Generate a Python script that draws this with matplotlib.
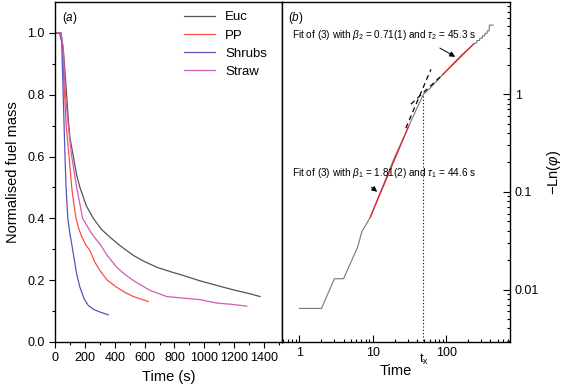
import matplotlib
matplotlib.use("Agg")
import matplotlib.pyplot as plt
from matplotlib.ticker import LogLocator, NullFormatter, FixedLocator, FixedFormatter
import matplotlib.transforms as mtransforms

plt.rcParams['font.family'] = ['Liberation Sans', 'DejaVu Sans']
plt.rcParams['mathtext.fontset'] = 'custom'
plt.rcParams['mathtext.rm'] = 'Liberation Sans'
plt.rcParams['mathtext.it'] = 'Liberation Sans:italic'

# panel (a): normalised fuel mass vs time (s)
euc_t = [5, 40, 55, 66, 78, 89, 100, 123, 145, 167, 210, 257, 310, 368, 440, 525, 600, 681, 770, 860, 970, 1083, 1200, 1306, 1373]
euc_m = [1.0, 1.0, 0.95, 0.88, 0.80, 0.72, 0.66, 0.60, 0.54, 0.50, 0.44, 0.40, 0.365, 0.339, 0.31, 0.28, 0.26, 0.242, 0.228, 0.215, 0.198, 0.183, 0.168, 0.156, 0.147]

pp_t = [5, 40, 50, 60, 75, 94, 112, 125, 141, 160, 180, 205, 234, 265, 301, 350, 413, 470, 525, 625]
pp_m = [1.0, 1.0, 0.95, 0.84, 0.70, 0.60, 0.50, 0.45, 0.40, 0.365, 0.34, 0.315, 0.296, 0.26, 0.231, 0.20, 0.177, 0.16, 0.147, 0.131]

shrubs_t = [5, 30, 45, 56, 67, 74, 86, 100, 123, 145, 167, 195, 223, 260, 301, 357]
shrubs_m = [1.0, 1.0, 0.97, 0.78, 0.60, 0.50, 0.40, 0.35, 0.285, 0.22, 0.177, 0.14, 0.118, 0.105, 0.097, 0.088]

straw_t = [5, 40, 55, 70, 89, 112, 145, 165, 185, 240, 270, 301, 350, 413, 470, 525, 636, 748, 860, 971, 1083, 1180, 1284]
straw_m = [1.0, 1.0, 0.95, 0.80, 0.70, 0.60, 0.50, 0.45, 0.40, 0.355, 0.335, 0.317, 0.28, 0.242, 0.218, 0.199, 0.167, 0.147, 0.142, 0.137, 0.126, 0.122, 0.116]

# panel (b): -Ln(phi) vs time, log-log
data_t = [1, 2, 3, 4, 6.2, 7.1, 9.25, 12, 15, 20, 25, 30, 40, 49, 60, 70, 89, 120, 160, 200, 240,
          260, 262, 285, 287, 310, 312, 335, 337, 360, 362, 385, 387, 436]
data_y = [0.0064, 0.0064, 0.0129, 0.0129, 0.027, 0.039, 0.055, 0.09, 0.135, 0.23, 0.33, 0.45, 0.72, 1.0, 1.15, 1.3, 1.58, 2.0, 2.5, 2.9, 3.3,
          3.35, 3.55, 3.55, 3.75, 3.75, 3.95, 3.95, 4.2, 4.2, 4.45, 4.45, 5.1, 5.1]

fit1_t = [9.25, 30.8]
fit1_y = [0.055, 0.47]
fit1_ext_t = [28.2, 62]
fit1_ext_y = [0.45, 1.8]
fit2_t = [89, 240]
fit2_y = [1.58, 3.3]
fit2_ext_t = [33, 89]
fit2_ext_y = [0.79, 1.58]
tx = 49

label1 = r'Fit of (3) with $\beta_1$ = 1.81(2) and $\tau_1$ = 44.6 s'
label2 = r'Fit of (3) with $\beta_2$ = 0.71(1) and $\tau_2$ = 45.3 s'

fig = plt.figure(figsize=(5.63, 3.88), dpi=100)
ax1 = fig.add_axes([55 / 563, 46 / 388, 227 / 563, 340 / 388])
ax2 = fig.add_axes([282 / 563, 46 / 388, 228 / 563, 340 / 388])

ax1.plot(euc_t, euc_m, color="#555555", lw=0.9, label="Euc")
ax1.plot(pp_t, pp_m, color="#ff4a4a", lw=0.9, label="PP")
ax1.plot(shrubs_t, shrubs_m, color="#5555c0", lw=0.9, label="Shrubs")
ax1.plot(straw_t, straw_m, color="#d05cb4", lw=0.9, label="Straw")
ax1.set_xlim(0, 1520)
ax1.set_ylim(0, 1.1)
ax1.xaxis.set_major_locator(FixedLocator([0, 200, 400, 600, 800, 1000, 1200, 1400]))
ax1.xaxis.set_minor_locator(FixedLocator([100, 300, 500, 700, 900, 1100, 1300, 1500]))
ax1.yaxis.set_major_locator(FixedLocator([0, 0.2, 0.4, 0.6, 0.8, 1.0]))
ax1.yaxis.set_minor_locator(FixedLocator([0.1, 0.3, 0.5, 0.7, 0.9]))
ax1.set_yticklabels(['0.0', '0.2', '0.4', '0.6', '0.8', '1.0'])
ax1.tick_params(which='both', direction='out', labelsize=9, width=0.8)
ax1.tick_params(which='major', length=4)
ax1.tick_params(which='minor', length=2.5)
ax1.set_xlabel("Time (s)", fontsize=10.5, labelpad=4)
ax1.set_ylabel("Normalised fuel mass", fontsize=10.5, labelpad=5)
ax1.text(0.03, 0.975, r'($a$)', transform=ax1.transAxes, fontsize=8.5, va='top', ha='left')
ax1.legend(loc='upper right', frameon=False, fontsize=9.5, handlelength=2.35,
           labelspacing=0.45, borderaxespad=0.3, bbox_to_anchor=(0.975, 1.0))

ax2.plot(data_t, data_y, color="#777777", lw=0.8)
ax2.plot(fit1_t, fit1_y, color="#e8202a", lw=0.9)
ax2.plot(fit2_t, fit2_y, color="#e8202a", lw=0.9)
ax2.plot(fit1_ext_t, fit1_ext_y, color="black", lw=0.9, ls=(0, (4, 3)))
ax2.plot(fit2_ext_t, fit2_ext_y, color="black", lw=0.9, ls=(0, (4, 3)))
ax2.plot([tx, tx], [0.001, 1.0], color="black", lw=0.8, ls=(0, (1, 2)))
ax2.set_xscale('log')
ax2.set_yscale('log')
ax2.set_xlim(0.58, 740)
ax2.set_ylim(0.0029, 8.8)
ax2.xaxis.set_major_locator(FixedLocator([1, 10, 100]))
ax2.xaxis.set_major_formatter(FixedFormatter(['1', '10', '100']))
ax2.xaxis.set_minor_locator(LogLocator(base=10, subs=range(2, 10)))
ax2.xaxis.set_minor_formatter(NullFormatter())
ax2.yaxis.set_major_locator(FixedLocator([0.01, 0.1, 1]))
ax2.yaxis.set_major_formatter(FixedFormatter(['0.01', '0.1', '1']))
ax2.yaxis.set_minor_locator(LogLocator(base=10, subs=range(2, 10)))
ax2.yaxis.set_minor_formatter(NullFormatter())
ax2.yaxis.tick_right()
ax2.yaxis.set_label_position('right')
ax2.tick_params(which='both', direction='in', labelsize=9, width=0.8, left=False, top=False)
ax2.tick_params(which='major', length=5)
ax2.tick_params(which='minor', length=2.5)
ax2.set_xlabel("Time", fontsize=10.5, labelpad=4)
ax2.set_ylabel(r'$-$Ln($\varphi$)', fontsize=10.5, labelpad=4)
ax2.text(0.025, 0.975, r'($b$)', transform=ax2.transAxes, fontsize=8.5, va='top', ha='left')
trans = mtransforms.blended_transform_factory(ax2.transData, ax2.transAxes)
ax2.text(tx, -0.028, r't$_\mathregular{x}$', transform=trans, fontsize=9, ha='center', va='top')

ax2.text(0.80, 4.05, label2, fontsize=7.2, ha='left', va='center')
ax2.text(0.80, 0.156, label1, fontsize=7.2, ha='left', va='center')
ax2.annotate('', xy=(143, 2.34), xytext=(76, 3.07),
             arrowprops=dict(arrowstyle='-|>', color='black', lw=0.7, mutation_scale=8))
ax2.annotate('', xy=(12.25, 0.096), xytext=(8.96, 0.117),
             arrowprops=dict(arrowstyle='-|>', color='black', lw=0.7, mutation_scale=8))

for ax in (ax1, ax2):
    for s in ax.spines.values():
        s.set_linewidth(1.0)

fig.savefig("out.png", dpi=100)
